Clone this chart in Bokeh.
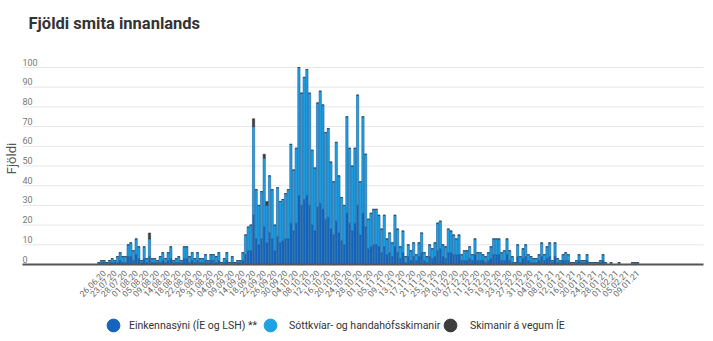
import numpy as np
from bokeh.plotting import figure
from bokeh.models import ColumnDataSource, Range1d, Legend, LegendItem
from bokeh.core.properties import value
from bokeh.embed import file_html
from bokeh.resources import INLINE

# ---------------- data ----------------
title_text = "Fjöldi smita innanlands"
y_title = "Fjöldi"
series_names = ["Einkennasýni (ÍE og LSH) **", "Sóttkvíar- og handahófsskimanir", "Skimanir á vegum ÍE"]

tick_labels = [
    "26.06.20", "23.07.20", "28.07.20", "01.08.20", "05.08.20", "09.08.20", "14.08.20",
    "18.08.20", "22.08.20", "26.08.20", "31.08.20", "04.09.20", "09.09.20", "14.09.20",
    "18.09.20", "22.09.20", "26.09.20", "30.09.20", "04.10.20", "08.10.20", "12.10.20",
    "16.10.20", "20.10.20", "24.10.20", "28.10.20", "01.11.20", "05.11.20", "09.11.20",
    "13.11.20", "17.11.20", "21.11.20", "25.11.20", "29.11.20", "03.12.20", "07.12.20",
    "11.12.20", "15.12.20", "19.12.20", "23.12.20", "27.12.20", "31.12.20", "04.01.21",
    "08.01.21", "12.01.21", "16.01.21", "20.01.21", "24.01.21", "28.01.21", "01.02.21",
    "05.02.21", "09.01.21",
]
first_label_index = 2
label_step = 4

einkenna = [
    0, 1, 1, 0, 1, 1, 1, 1, 2, 1, 1, 4, 4, 2, 5, 3, 1, 3, 1, 4,
    1, 1, 1, 1, 2, 1, 2, 3, 1, 1, 1, 1, 3, 3, 1, 2, 1, 2, 1, 1,
    2, 1, 2, 2, 1, 2, 0, 1, 2, 0, 1, 0, 1, 1, 2, 5, 7, 7, 25,
    13, 10, 13, 19, 11, 16, 13, 7, 14, 11, 12, 13, 13, 21, 17, 21, 35, 30, 33, 35,
    30, 20, 17, 29, 31, 28, 23, 24, 18, 15, 22, 16, 12, 10, 26, 21, 17, 21, 30, 15,
    26, 19, 8, 9, 10, 10,
    9, 6, 9, 5, 6, 4, 9, 6, 3, 6, 1, 4, 2, 4, 2, 4, 6, 2, 1, 4,
    3, 4, 7, 8, 4, 3, 6, 6, 5, 5, 5, 2, 2, 2, 3, 2, 5, 2, 2, 2,
    1, 2, 3, 5, 5, 5, 2, 2, 5, 2, 1, 0, 4, 1, 3, 4,
    2, 1, 1, 1, 2, 4, 2, 3, 4, 1, 4, 1, 1, 2, 2, 2, 0, 0, 1, 2,
    1, 1, 2, 0, 0, 0, 0, 1, 2, 0, 0, 0, 0, 0, 0, 0, 0, 0, 0, 0,
    0, 0,
]
sottkvi = [
    1, 1, 1, 1, 1, 2, 1, 3, 4, 3, 3, 6, 7, 5, 8, 6, 1, 6, 2, 9,
    2, 2, 1, 3, 4, 2, 4, 6, 1, 2, 3, 1, 6, 6, 3, 4, 2, 4, 2, 2,
    3, 1, 3, 3, 3, 4, 1, 2, 4, 1, 3, 1, 1, 1, 4, 10, 12, 13, 45,
    25, 20, 24, 35, 19, 29, 25, 13, 25, 21, 21, 23, 25, 40, 31, 38, 65, 57, 62, 64,
    57, 38, 32, 53, 57, 53, 44, 45, 34, 27, 40, 29, 22, 20, 49, 38, 33, 38, 56, 27,
    49, 37, 15, 17, 18, 18,
    16, 12, 16, 8, 10, 7, 16, 12, 6, 11, 3, 6, 5, 7, 3, 7, 10, 4, 3, 6,
    5, 7, 14, 14, 6, 6, 12, 11, 10, 8, 10, 3, 5, 5, 6, 3, 8, 4, 4, 3,
    3, 4, 6, 8, 8, 8, 4, 5, 8, 5, 3, 1, 6, 3, 5, 6,
    3, 3, 2, 2, 3, 7, 3, 6, 7, 1, 7, 2, 1, 3, 4, 3, 1, 1, 1, 3,
    1, 1, 3, 1, 1, 1, 1, 1, 3, 1, 0, 1, 0, 0, 1, 0, 0, 0, 0, 1,
    1, 1,
]
# Skimanir á vegum ÍE: only a few days (category index -> cases)
ie_days = {19: 3, 58: 4, 62: 2, 63: 2}

y_ticks = [0, 10, 20, 30, 40, 50, 60, 70, 80, 90, 100]

# ---------------- style / layout ----------------
DARK = "#1565c0"
LIGHT = "#1fa2e3"
GREY = "#3d3d3d"
EDGE = "#17609f"
FONT = "Roboto"
W, H = 713, 341
PX_PER_CAT = 2.668      # horizontal pixels per category
CAT0_PX = 98.3          # pixel column of the first category
BASE_PX = 264.0         # pixel row of the zero line
PX_PER_CASE = 1.97      # vertical pixels per case
PLOT_L, PLOT_R = 22, 703
GLYPH_BOX = 32
# legend: (circle centre px, gap between circle box and text)
LEGEND_POS = [(113, 0), (270, 3), (450, 4)]


def xd(px):
    return (px - CAT0_PX) / PX_PER_CAT


def yd(py):
    return (BASE_PX - py) / PX_PER_CASE


n = len(einkenna)
xs = list(range(n))
ie = [ie_days.get(i, 0) for i in xs]
src = ColumnDataSource(dict(x=xs, e=einkenna, s=sottkvi, g=ie))

p = figure(width=W, height=H, output_backend="svg", toolbar_location=None,
           x_range=Range1d(xd(0), xd(W)), y_range=Range1d(yd(H), yd(0)),
           x_axis_type=None, y_axis_type=None, min_border=0)
p.outline_line_color = None
p.background_fill_color = "white"
p.border_fill_color = "white"

# horizontal grid lines
p.segment(x0=[xd(PLOT_L)] * len(y_ticks), x1=[xd(PLOT_R)] * len(y_ticks),
          y0=y_ticks, y1=y_ticks, line_color="#e6e6e6", line_width=1)

p.vbar_stack(["e", "s", "g"], x="x", width=0.85, source=src,
             fill_color=[DARK, LIGHT, GREY], line_color=[EDGE, EDGE, GREY],
             line_width=0.6)

# zero line
p.segment(x0=[xd(PLOT_L)], x1=[xd(PLOT_R)], y0=[0], y1=[0],
          line_color="#555555", line_width=2)

# y tick labels, inside the plot above each grid line
p.text(x=[xd(PLOT_L)] * len(y_ticks), y=y_ticks, text=[str(t) for t in y_ticks],
       text_font=value(FONT), text_font_size="9px", text_color="#777777",
       text_baseline="bottom", text_align="left", y_offset=-2)

# x tick labels (every 4th category), rotated
tick_pos = [first_label_index + label_step * k for k in range(len(tick_labels))]
p.text(x=tick_pos, y=[0] * len(tick_pos), text=tick_labels, angle=np.pi / 4,
       text_font=value(FONT), text_font_size="8.5px", text_color="#666666",
       text_align="right", text_baseline="middle", y_offset=7)

# axis title
p.text(x=[xd(10.5)], y=[yd(158)], text=[y_title], angle=np.pi / 2,
       text_font=value(FONT), text_font_size="13px", text_color="#555555",
       text_align="center", text_baseline="middle")

# chart title
p.text(x=[xd(28)], y=[yd(23)], text=[title_text], text_font=value(FONT),
       text_font_size="16.5px", text_font_style="bold", text_color="#333333",
       text_align="left", text_baseline="alphabetic")

# legend with round markers: one legend per entry for exact placement
for name, col, (cx, gap) in zip(series_names, [DARK, LIGHT, GREY], LEGEND_POS):
    r = p.scatter(x=np.array([np.nan]), y=np.array([np.nan]), marker="circle",
                  size=12, fill_color=col, line_color=col)
    lg = Legend(items=[LegendItem(label=name, renderers=[r])],
                orientation="horizontal", location=(cx - GLYPH_BOX // 2, 0),
                glyph_width=GLYPH_BOX, glyph_height=GLYPH_BOX, label_standoff=gap,
                padding=0, margin=0, border_line_color=None,
                background_fill_alpha=0, label_text_font=FONT,
                label_text_font_size="10.5px", label_text_color="#333333")
    p.add_layout(lg)

open("out.html", "w").write(file_html(p, INLINE))
